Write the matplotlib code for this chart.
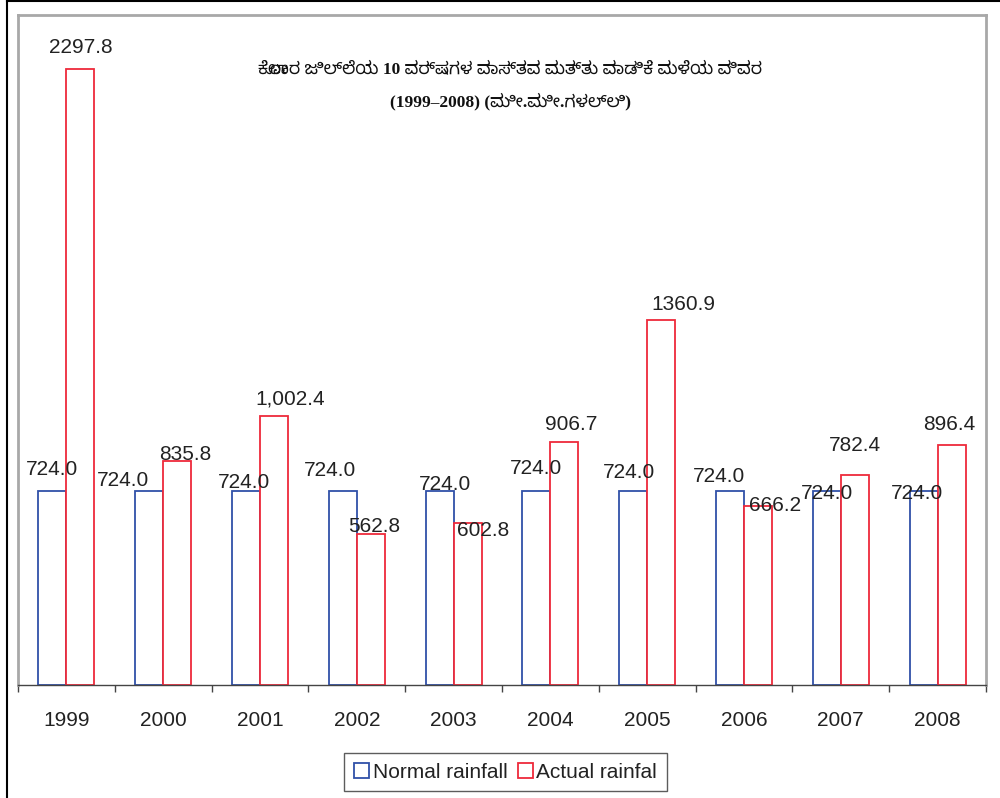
import numpy as np
import matplotlib
matplotlib.use("Agg")
import matplotlib.pyplot as plt
from matplotlib.patches import Patch
from matplotlib.lines import Line2D

plt.rcParams['font.family'] = ['Liberation Sans', 'DejaVu Sans']

YEARS   = ["1999", "2000", "2001", "2002", "2003", "2004", "2005", "2006", "2007", "2008"]
NORMAL  = [724.0, 724.0, 724.0, 724.0, 724.0, 724.0, 724.0, 724.0, 724.0, 724.0]
ACTUAL  = [2297.8, 835.8, 1002.4, 562.8, 602.8, 906.7, 1360.9, 666.2, 782.4, 896.4]
NORMAL_LABELS = ["724.0"] * 10
ACTUAL_LABELS = ["2297.8", "835.8", "1,002.4", "562.8", "602.8",
                 "906.7", "1360.9", "666.2", "782.4", "896.4"]

TITLE_1 = "ಕೋಲಾರ ಜಿಲ್ಲೆಯ 10 ವರ್ಷಗಳ ವಾಸ್ತವ ಮತ್ತು ವಾಡಿಕೆ ಮಳೆಯ ವಿವರ"
TITLE_2 = "(1999–2008) (ಮೀ.ಮೀ.ಗಳಲ್ಲಿ)"

# label nudges in pixels (the labels were dragged around in the original)
NORM_OFF = [(0, 21), (-26, 10), (-2, 8), (-13, 20), (5, 6),
            (0, 22), (-4, 18), (-11, 14), (0, -3), (-7, -3)]
ACT_OFF  = [(0, 22), (8, 7), (16, 17), (3, 8), (15, -7),
            (7, 18), (22, 16), (17, 1), (0, 30), (-2, 20)]

BLUE = "#3050a8"
RED  = "#ee2a3a"
TXT  = "#222222"

fig = plt.figure(figsize=(10, 7.98), dpi=100)
ax = fig.add_axes([0.018, (798 - 685) / 798, 0.968, (685 - 15) / 798])

x = np.arange(len(YEARS))
w = 0.29
ax.bar(x - w / 2, NORMAL, w, facecolor="white", edgecolor=BLUE, linewidth=1.3, zorder=2)
ax.bar(x + w / 2, ACTUAL, w, facecolor="white", edgecolor=RED, linewidth=1.3, zorder=2)

for i in range(len(YEARS)):
    ax.annotate(NORMAL_LABELS[i], (x[i] - w / 2, NORMAL[i]), xytext=NORM_OFF[i],
                textcoords="offset pixels", ha="center", va="center",
                fontsize=15, color=TXT, zorder=4)
    ax.annotate(ACTUAL_LABELS[i], (x[i] + w / 2, ACTUAL[i]), xytext=ACT_OFF[i],
                textcoords="offset pixels", ha="center", va="center",
                fontsize=15, color=TXT, zorder=4)

ax.set_xlim(-0.5, len(YEARS) - 0.5)
ax.set_ylim(0, 2500)
ax.set_yticks([])
ax.set_xticks(np.arange(len(YEARS) + 1) - 0.5)
ax.set_xticklabels([])
ax.set_xticks(x, minor=True)
ax.set_xticklabels(YEARS, minor=True, fontsize=15, color=TXT)
ax.tick_params(axis="x", which="major", length=5, width=1, color="#444444", direction="out")
ax.tick_params(axis="x", which="minor", length=0, pad=19)

for s in ["left", "top", "right"]:
    ax.spines[s].set_color("#a8a8a8")
    ax.spines[s].set_linewidth(2)
ax.spines["bottom"].set_color("#444444")
ax.spines["bottom"].set_linewidth(1)

# serif for the digits, Kannada glyphs fall back to the next family
kan = ['Liberation Serif', 'Noto Sans Kannada', 'Noto Sans', 'DejaVu Sans']
fig.text(0.51, 1 - 70 / 798, TITLE_1, ha="center", va="center",
         fontsize=12.5, fontweight="bold", family=kan, color="#111111")
fig.text(0.51, 1 - 102 / 798, TITLE_2, ha="center", va="center",
         fontsize=12.5, fontweight="bold", family=kan, color="#111111")

handles = [Patch(facecolor="white", edgecolor=BLUE, linewidth=1.3, label="Normal rainfall"),
           Patch(facecolor="white", edgecolor=RED, linewidth=1.3, label="Actual rainfal")]
leg = fig.legend(handles=handles, loc="center", bbox_to_anchor=(0.5055, 1 - 772 / 798),
                 ncol=2, fontsize=15, frameon=True, fancybox=False,
                 handlelength=0.75, handleheight=0.75, handletextpad=0.15,
                 columnspacing=0.5, borderpad=0.45, labelcolor=TXT)
leg.get_frame().set_edgecolor("#333333")
leg.get_frame().set_linewidth(1)

# outer frame of the page
fig.add_artist(Line2D([0.007, 0.007], [0, 1], transform=fig.transFigure, color="black", linewidth=1.5))
fig.add_artist(Line2D([0.007, 1], [0.999, 0.999], transform=fig.transFigure, color="black", linewidth=1.5))

fig.savefig("out.png", dpi=100)
